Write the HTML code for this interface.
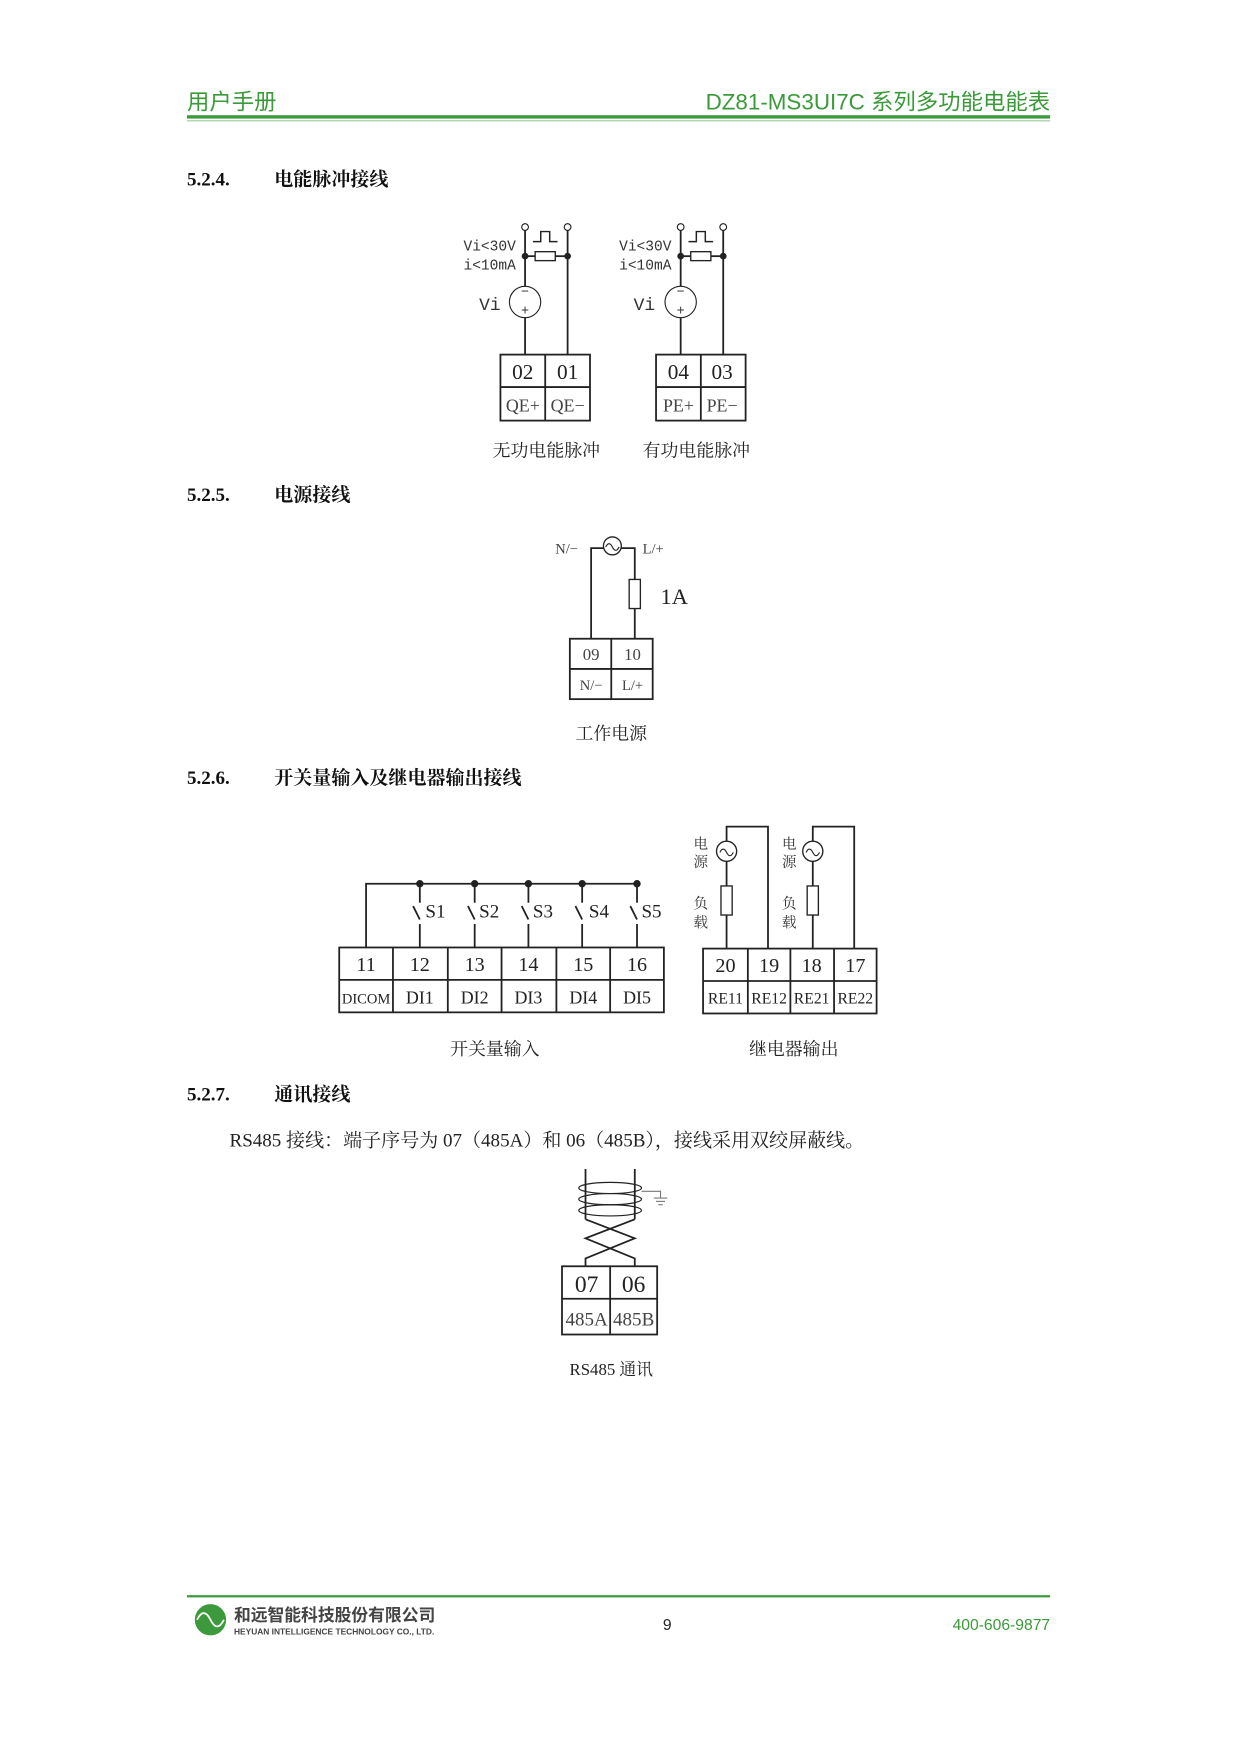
<!DOCTYPE html>
<html><head><meta charset="utf-8"><style>
html,body{margin:0;padding:0;background:#fff;width:1241px;height:1754px;overflow:hidden}
svg{display:block}
.s{font-family:"Liberation Serif","Noto Serif CJK SC",serif}
.h{font-family:"Liberation Sans","Noto Sans CJK SC",sans-serif}
.m{font-family:"Liberation Mono","Noto Sans CJK SC",monospace}
</style></head><body>
<svg width="1241" height="1754" viewBox="0 0 1108.5 1568" preserveAspectRatio="none" xmlns="http://www.w3.org/2000/svg">
<rect width="1110" height="1570" fill="#fff"/>
<!-- header -->
<text x="167" y="98" class="h" font-size="20" fill="#3a9a3a">用户手册</text>
<text x="938" y="98" class="h" font-size="20" fill="#3a9a3a" text-anchor="end">DZ81-MS3UI7C 系列多功能电能表</text>
<rect x="167" y="103" width="771" height="3" fill="#3a9a3a"/>
<rect x="167" y="107.5" width="771" height="1" fill="#9bc89b"/>

<g class="s" font-weight="bold" font-size="17" fill="#111">
<text x="167" y="166">5.2.4.</text><text x="245" y="166">电能脉冲接线</text>
<text x="167" y="448">5.2.5.</text><text x="245" y="448">电源接线</text>
<text x="167" y="701">5.2.6.</text><text x="245" y="701">开关量输入及继电器输出接线</text>
<text x="167" y="984">5.2.7.</text><text x="245" y="984">通讯接线</text>
</g>

<g stroke="#222" stroke-width="1.6" fill="none">
<g id="p1">
<line x1="469" y1="206" x2="469" y2="256"/><line x1="469" y1="284" x2="469" y2="317"/>
<line x1="507" y1="206" x2="507" y2="317"/>
<circle cx="469" cy="203" r="3" stroke-width="1"/><circle cx="507" cy="203" r="3" stroke-width="1"/>
<line x1="469" y1="229" x2="478" y2="229"/><rect x="478" y="225" width="18" height="8" stroke-width="1.2"/><line x1="496" y1="229" x2="507" y2="229"/>
<circle cx="469" cy="229" r="2.2" fill="#222"/><circle cx="507" cy="229" r="2.2" fill="#222"/>
<polyline points="476,216 483,216 483,207 491,207 491,216 498,216" stroke-width="1.3"/>
<circle cx="469" cy="270" r="14" stroke-width="1"/>
<rect x="447" y="317" width="80" height="59"/><line x1="447" y1="346" x2="527" y2="346"/><line x1="487" y1="317" x2="487" y2="376"/>
</g>
<use href="#p1" x="139"/>
<polyline points="528,571 528,490 539,490"/>
<circle cx="547" cy="488" r="8" stroke-width="1.2"/>
<path d="M541,489 q3,-6 6,0 q3,6 6,0" stroke-width="1"/>
<polyline points="555,490 567,490 567,518"/>
<rect x="562" y="518" width="10" height="26" stroke-width="1.2"/>
<line x1="567" y1="544" x2="567" y2="571"/>
<rect x="509" y="571" width="74" height="54"/><line x1="509" y1="598" x2="583" y2="598"/><line x1="546" y1="571" x2="546" y2="625"/>
<polyline points="327,847 327,790 569,790"/>
<g id="sw"><circle cx="375" cy="790" r="2.5" fill="#222"/><line x1="375" y1="790" x2="375" y2="807"/><line x1="369" y1="810" x2="375" y2="822"/><line x1="375" y1="826" x2="375" y2="847"/></g>
<use href="#sw" x="49"/><use href="#sw" x="97"/><use href="#sw" x="145"/><use href="#sw" x="194"/>
<rect x="303" y="847" width="290" height="58"/><line x1="303" y1="876" x2="593" y2="876"/>
<line x1="351" y1="847" x2="351" y2="905"/><line x1="400" y1="847" x2="400" y2="905"/><line x1="448" y1="847" x2="448" y2="905"/><line x1="497" y1="847" x2="497" y2="905"/><line x1="545" y1="847" x2="545" y2="905"/>
<g id="rl"><line x1="649" y1="848" x2="649" y2="818"/><rect x="644" y="792" width="10" height="26" stroke-width="1.2"/><line x1="649" y1="792" x2="649" y2="770"/>
<circle cx="649" cy="761" r="9" stroke-width="1.2"/><path d="M643,762 q3,-6 6,0 q3,6 6,0" stroke-width="1"/>
<polyline points="649,752 649,739 686,739 686,848"/></g>
<use href="#rl" x="77"/>
<rect x="628" y="848" width="155" height="58"/><line x1="628" y1="877" x2="783" y2="877"/>
<line x1="668" y1="848" x2="668" y2="906"/><line x1="706" y1="848" x2="706" y2="906"/><line x1="745" y1="848" x2="745" y2="906"/>
<line x1="523" y1="1045" x2="523" y2="1090"/><line x1="567" y1="1045" x2="567" y2="1090"/>
<polyline points="523,1090 567,1107 523,1125 523,1132"/><polyline points="567,1090 523,1107 567,1125 567,1132"/>
<g stroke-width="1.1"><ellipse cx="545" cy="1062" rx="28" ry="5"/><ellipse cx="545" cy="1072" rx="28" ry="5"/><ellipse cx="545" cy="1082" rx="28" ry="5"/></g>
<g stroke="#777" stroke-width="1"><polyline points="573,1065 590,1065 590,1071"/><line x1="584" y1="1071" x2="596" y2="1071"/><line x1="586" y1="1074" x2="594" y2="1074"/><line x1="588" y1="1077" x2="592" y2="1077"/></g>
<rect x="502" y="1132" width="85" height="61"/><line x1="502" y1="1161" x2="587" y2="1161"/><line x1="545" y1="1132" x2="545" y2="1193"/>
</g>

<g class="m" fill="#333" font-size="13">
<text x="414" y="224">Vi&lt;30V</text><text x="414" y="241">i&lt;10mA</text>
<text x="553" y="224">Vi&lt;30V</text><text x="553" y="241">i&lt;10mA</text>
<text x="428" y="277" font-size="16">Vi</text><text x="566" y="277" font-size="16">Vi</text>
</g>
<g class="h" fill="#333" font-size="12" text-anchor="middle">
<text x="469" y="264">−</text><text x="469" y="281">+</text>
<text x="608" y="264">−</text><text x="608" y="281">+</text>
</g>
<g class="s" fill="#222" font-size="19" text-anchor="middle">
<text x="467" y="339">02</text><text x="507" y="339">01</text>
<text x="606" y="339">04</text><text x="645" y="339">03</text>
</g>
<g class="s" fill="#444" font-size="16" text-anchor="middle">
<text x="467" y="368">QE+</text><text x="507" y="368">QE−</text>
<text x="606" y="368">PE+</text><text x="645" y="368">PE−</text>
</g>
<g class="s" fill="#222" font-size="16" text-anchor="middle">
<text x="488" y="408">无功电能脉冲</text><text x="622" y="408">有功电能脉冲</text>
<text x="546" y="661">工作电源</text>
<text x="442" y="943">开关量输入</text><text x="709" y="943">继电器输出</text>
<text x="546" y="1229" font-size="15">RS485 通讯</text>
</g>
<g class="s" fill="#444">
<text x="496" y="495" font-size="13">N/−</text><text x="574" y="495" font-size="13">L/+</text>
<text x="590" y="540" font-size="20" fill="#222">1A</text>
<text x="528" y="590" font-size="15" text-anchor="middle">09</text><text x="565" y="590" font-size="15" text-anchor="middle">10</text>
<text x="528" y="617" font-size="13" text-anchor="middle">N/−</text><text x="565" y="617" font-size="13" text-anchor="middle">L/+</text>
</g>
<g class="s" fill="#222" font-size="17">
<text x="380" y="820">S1</text><text x="428" y="820">S2</text><text x="476" y="820">S3</text><text x="526" y="820">S4</text><text x="573" y="820">S5</text>
</g>
<g class="s" fill="#222" font-size="18" text-anchor="middle">
<text x="327" y="868">11</text><text x="375" y="868">12</text><text x="424" y="868">13</text><text x="472" y="868">14</text><text x="521" y="868">15</text><text x="569" y="868">16</text>
<text x="648" y="869">20</text><text x="687" y="869">19</text><text x="725" y="869">18</text><text x="764" y="869">17</text>
</g>
<g class="s" fill="#222" font-size="16" text-anchor="middle">
<text x="327" y="897" font-size="13">DICOM</text><text x="375" y="897">DI1</text><text x="424" y="897">DI2</text><text x="472" y="897">DI3</text><text x="521" y="897">DI4</text><text x="569" y="897">DI5</text>
<text x="648" y="897" font-size="14">RE11</text><text x="687" y="897" font-size="14">RE12</text><text x="725" y="897" font-size="14">RE21</text><text x="764" y="897" font-size="14">RE22</text>
</g>
<g class="s" fill="#333" font-size="13" text-anchor="middle">
<text x="626" y="759">电</text><text x="626" y="775">源</text><text x="626" y="812">负</text><text x="626" y="829">载</text>
<text x="705" y="759">电</text><text x="705" y="775">源</text><text x="705" y="812">负</text><text x="705" y="829">载</text>
</g>
<text x="205" y="1025" class="s" font-size="17" fill="#222">RS485 接线：端子序号为 07（485A）和 06（485B），接线采用双绞屏蔽线。</text>
<g class="s" text-anchor="middle" fill="#222">
<text x="524" y="1155" font-size="21">07</text><text x="566" y="1155" font-size="21">06</text>
<text x="524" y="1185" font-size="17" fill="#444">485A</text><text x="566" y="1185" font-size="17" fill="#444">485B</text>
</g>

<rect x="167" y="1426" width="771" height="2" fill="#3a9a3a"/>
<circle cx="188" cy="1448" r="14" fill="#3c9a3c"/>
<path d="M176,1448 q6,-12 12,0 q6,12 12,0" stroke="#fff" stroke-width="1.6" fill="none"/>
<text x="209" y="1449" class="h" font-size="15" font-weight="bold" fill="#444">和远智能科技股份有限公司</text>
<text x="209" y="1461" class="h" font-size="7.5" font-weight="bold" fill="#444">HEYUAN INTELLIGENCE TECHNOLOGY CO., LTD.</text>
<text x="596" y="1457" class="h" font-size="14" fill="#222" text-anchor="middle">9</text>
<text x="938" y="1457" class="h" font-size="14" fill="#3a9a3a" text-anchor="end">400-606-9877</text>
</svg>
</body></html>
